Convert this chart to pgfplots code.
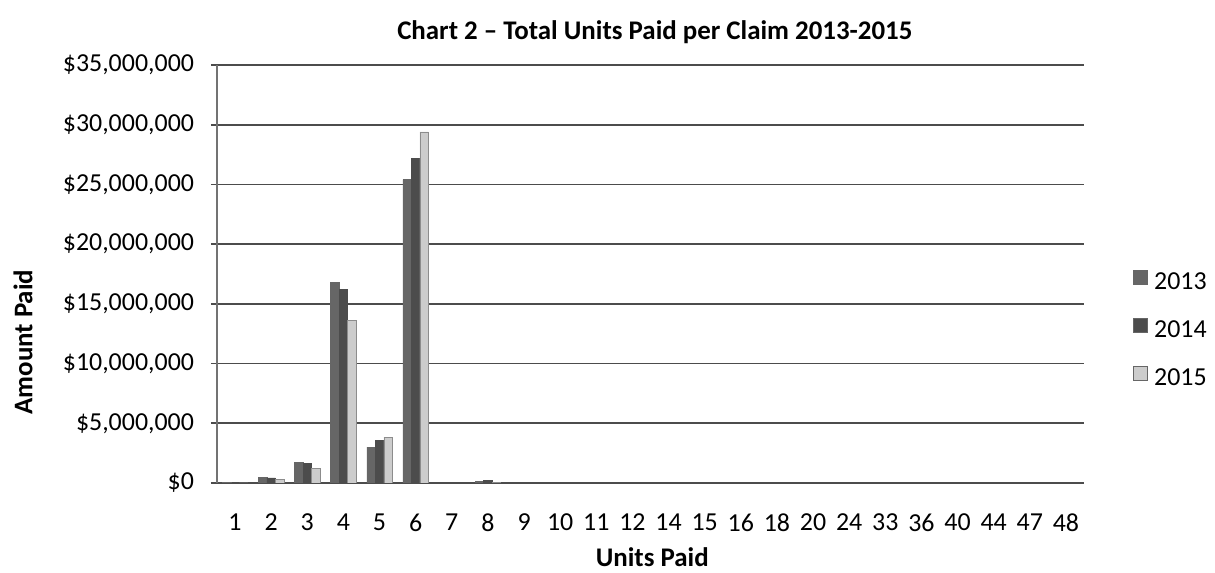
\documentclass[border=0pt]{standalone}
\usepackage{fontspec}
\setmainfont{Carlito}
\usepackage{pgfplots}
\pgfplotsset{compat=1.18}
\definecolor{gridc}{gray}{0.30}
\definecolor{c2013}{gray}{0.40}
\definecolor{c2014}{gray}{0.30}
\definecolor{c2015}{gray}{0.80}
\begin{document}
\begin{tikzpicture}
\begin{axis}[
  at={(0,0)}, anchor=south west,
  scale only axis, width=433.5bp, height=209bp,
  xmin=-0.5, xmax=23.5, ymin=0, ymax=35000000,
  ybar=0pt, bar width=4.25bp,
  xtick={0,1,2,3,4,5,6,7,8,9,10,11,12,13,14,15,16,17,18,19,20,21,22,23},
  xticklabels={1,2,3,4,5,6,7,8,9,10,11,12,14,15,16,18,20,24,33,36,40,44,47,48},
  ytick={0,5000000,10000000,15000000,20000000,25000000,30000000,35000000},
  yticklabels={\$0,\$5{,}000{,}000,\$10{,}000{,}000,\$15{,}000{,}000,\$20{,}000{,}000,\$25{,}000{,}000,\$30{,}000{,}000,\$35{,}000{,}000},
  scaled y ticks=false,
  ymajorgrids, grid style={gridc, line width=0.8bp},
  axis x line*=bottom, axis y line*=left,
  x axis line style={gridc, line width=0.8bp, -},
  y axis line style={black!55, line width=0.6bp, -},
  xtick style={draw=none},
  ytick style={gridc, line width=0.8bp}, major tick length=3bp, tick align=outside,
  xticklabel style={font=\fontsize{13}{15}\selectfont, yshift=-9bp},
  yticklabel style={font=\fontsize{13}{15}\selectfont, xshift=-5bp},
  title={Chart 2 – Total Units Paid per Claim 2013-2015},
  title style={at={(axis description cs:0.505,1.05)}, anchor=center, font=\bfseries\fontsize{13.5}{16}\selectfont},
  xlabel={Units Paid},
  xlabel style={at={(axis description cs:0.502,-0.178)}, anchor=center, font=\bfseries\fontsize{13.5}{16}\selectfont},
  ylabel={Amount Paid},
  ylabel style={at={(axis description cs:-0.2238,0.337)}, anchor=center, font=\bfseries\fontsize{13.5}{16}\selectfont},
  legend style={draw=none, fill=none, inner sep=0pt, at={(axis description cs:1.0565,0.366)}, anchor=west,
    row sep=11bp, font=\fontsize{13}{15}\selectfont, nodes={inner sep=1bp, text height=9bp, text depth=2bp}},
  legend cell align=left,
  legend image code/.code={\draw[#1, draw=black!60, line width=0.4bp] (0bp,-1bp) rectangle (7bp,6bp);},
  /tikz/every odd column/.append style={column sep=2bp},
]
\addplot[fill=c2013, draw=black!60, line width=0.3bp] coordinates {
(0,20000) (1,500000) (2,1700000) (3,16800000) (4,3000000) (5,25400000) (6,0) (7,120000)
(8,0) (9,0) (10,0) (11,0) (12,0) (13,0) (14,0) (15,0) (16,0) (17,0) (18,0) (19,0) (20,0) (21,0) (22,0) (23,0)};
\addplot[fill=c2014, draw=black!70, line width=0.3bp] coordinates {
(0,15000) (1,420000) (2,1670000) (3,16200000) (4,3600000) (5,27200000) (6,0) (7,230000)
(8,0) (9,0) (10,0) (11,0) (12,0) (13,0) (14,0) (15,0) (16,0) (17,0) (18,0) (19,0) (20,0) (21,0) (22,0) (23,0)};
\addplot[fill=c2015, draw=black!45, line width=0.3bp] coordinates {
(0,10000) (1,320000) (2,1250000) (3,13600000) (4,3850000) (5,29400000) (6,0) (7,60000)
(8,0) (9,0) (10,0) (11,0) (12,0) (13,0) (14,0) (15,0) (16,0) (17,0) (18,0) (19,0) (20,0) (21,0) (22,0) (23,0)};
\legend{2013,2014,2015}
\end{axis}
\pgfresetboundingbox
\path (-108.5bp,-45bp) rectangle (499bp,241.5bp);
\end{tikzpicture}
\end{document}
